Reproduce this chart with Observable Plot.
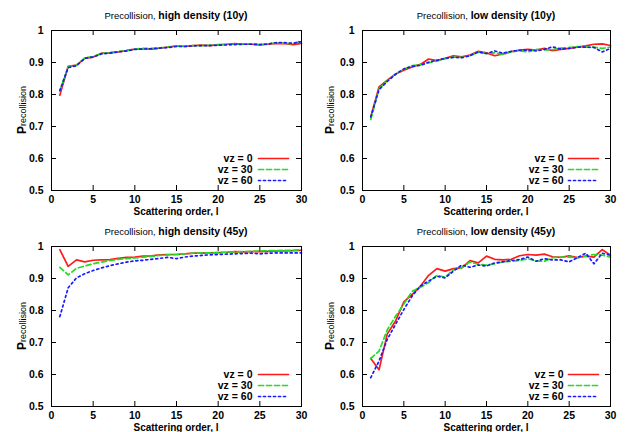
<!DOCTYPE html>
<html>
<head>
<meta charset="utf-8">
<script src="https://cdn.jsdelivr.net/npm/d3@7"></script>
<script src="https://cdn.jsdelivr.net/npm/@observablehq/plot@0.6"></script>
<style>
  html, body { margin: 0; padding: 0; background: #fff; }
  #grid { display: grid; grid-template-columns: 316px 316px; grid-template-rows: 216px 216px; width: 632px; height: 432px; }
  #grid svg { display: block; overflow: visible; }
</style>
</head>
<body>
<div id="grid"></div>
<script>
// ---- data ----
const order = [1,2,3,4,5,6,7,8,9,10,11,12,13,14,15,16,17,18,19,20,21,22,23,24,25,26,27,28,29,30];
const xTicks = [0, 5, 10, 15, 20, 25, 30];
const yTicks = [0.5, 0.6, 0.7, 0.8, 0.9, 1];
const seriesNames = ["vz = 0", "vz = 30", "vz = 60"];
const panelTitles = ["high density (10y)", "low density (10y)", "high density (45y)", "low density (45y)"];

const hd10_vz0  = [0.798,0.888,0.892,0.913,0.917,0.929,0.930,0.933,0.937,0.942,0.943,0.942,0.945,0.948,0.952,0.950,0.953,0.954,0.953,0.956,0.957,0.959,0.957,0.957,0.955,0.957,0.960,0.959,0.956,0.960];
const hd10_vz30 = [0.812,0.887,0.891,0.915,0.918,0.928,0.931,0.934,0.938,0.942,0.944,0.944,0.946,0.948,0.951,0.951,0.953,0.953,0.954,0.955,0.957,0.957,0.958,0.958,0.956,0.958,0.961,0.960,0.959,0.968];
const hd10_vz60 = [0.812,0.884,0.890,0.913,0.917,0.927,0.929,0.933,0.936,0.941,0.942,0.943,0.945,0.947,0.950,0.950,0.952,0.953,0.953,0.954,0.955,0.956,0.957,0.957,0.956,0.958,0.962,0.962,0.960,0.965];

const ld10_vz0  = [0.730,0.824,0.845,0.864,0.876,0.886,0.894,0.911,0.906,0.913,0.921,0.918,0.923,0.935,0.930,0.921,0.927,0.934,0.939,0.941,0.939,0.944,0.937,0.941,0.944,0.948,0.952,0.957,0.958,0.953];
const ld10_vz30 = [0.722,0.818,0.843,0.864,0.879,0.890,0.893,0.899,0.905,0.912,0.917,0.916,0.922,0.932,0.928,0.930,0.925,0.933,0.937,0.933,0.941,0.939,0.940,0.945,0.947,0.950,0.948,0.948,0.944,0.948];
const ld10_vz60 = [0.730,0.815,0.841,0.863,0.880,0.888,0.891,0.901,0.907,0.913,0.916,0.915,0.921,0.933,0.928,0.936,0.929,0.935,0.938,0.939,0.936,0.941,0.949,0.942,0.944,0.948,0.948,0.947,0.933,0.944];

const hd45_vz0  = [0.990,0.938,0.958,0.952,0.957,0.958,0.959,0.963,0.966,0.967,0.970,0.971,0.974,0.975,0.975,0.977,0.979,0.979,0.980,0.981,0.982,0.984,0.983,0.984,0.984,0.985,0.986,0.986,0.987,0.988];
const hd45_vz30 = [0.935,0.911,0.932,0.939,0.946,0.951,0.956,0.960,0.962,0.964,0.967,0.969,0.972,0.974,0.975,0.977,0.979,0.980,0.980,0.981,0.982,0.983,0.984,0.985,0.986,0.987,0.987,0.988,0.988,0.990];
const hd45_vz60 = [0.781,0.871,0.902,0.915,0.925,0.933,0.940,0.946,0.951,0.955,0.957,0.960,0.963,0.966,0.962,0.967,0.970,0.972,0.974,0.975,0.976,0.977,0.978,0.979,0.977,0.979,0.980,0.980,0.980,0.980];

const ld45_vz0  = [0.650,0.615,0.727,0.767,0.827,0.850,0.876,0.910,0.931,0.923,0.931,0.933,0.956,0.949,0.970,0.960,0.958,0.960,0.971,0.975,0.973,0.976,0.968,0.966,0.971,0.965,0.970,0.967,0.990,0.973];
const ld45_vz30 = [0.650,0.673,0.740,0.782,0.820,0.860,0.873,0.887,0.910,0.904,0.928,0.933,0.952,0.944,0.942,0.946,0.952,0.954,0.956,0.962,0.954,0.954,0.965,0.967,0.967,0.965,0.970,0.975,0.973,0.967];
const ld45_vz60 = [0.590,0.642,0.710,0.757,0.803,0.845,0.876,0.892,0.907,0.902,0.923,0.942,0.935,0.942,0.939,0.949,0.952,0.956,0.959,0.967,0.954,0.962,0.958,0.958,0.952,0.965,0.979,0.946,0.979,0.973];

const panelData = [
  [hd10_vz0, hd10_vz30, hd10_vz60],
  [ld10_vz0, ld10_vz30, ld10_vz60],
  [hd45_vz0, hd45_vz30, hd45_vz60],
  [ld45_vz0, ld45_vz30, ld45_vz60]
];

// ---- styles ----
const FONT = "'Liberation Sans', Arial, Helvetica, sans-serif";
const lineStyles = [
  {stroke: "#ff1a1a", dash: null},
  {stroke: "#22dd22", dash: "5,3"},
  {stroke: "#1a1aff", dash: "2,3"}
];

function panel(idx) {
  const left = idx % 2 === 0;
  const W = 316, H = 216;
  const mL = left ? 51 : 46, mR = left ? 15 : 22, mT = 30, mB = 26;
  const pw = W - mL - mR, ph = H - mT - mB;
  const series = panelData[idx];
  const marks = [];
  // inward ticks on all four sides
  marks.push(Plot.tickX(xTicks, {x: d => d, insetTop: ph - 5, stroke: "#000"}));
  marks.push(Plot.tickX(xTicks, {x: d => d, insetBottom: ph - 5, stroke: "#000"}));
  marks.push(Plot.tickY(yTicks, {y: d => d, insetRight: pw - 5, stroke: "#000"}));
  marks.push(Plot.tickY(yTicks, {y: d => d, insetLeft: pw - 5, stroke: "#000"}));
  marks.push(Plot.axisX(xTicks, {tickSize: 0, tickPadding: 5, label: null, fontWeight: "bold"}));
  marks.push(Plot.axisY(yTicks, {tickSize: 0, tickPadding: 8, label: null, fontWeight: "bold",
    tickFormat: d => d === 1 ? "1" : d.toFixed(1)}));
  series.forEach((vals, s) => {
    marks.push(Plot.line(order, {x: d => d, y: (d, i) => vals[i], stroke: lineStyles[s].stroke,
      strokeWidth: 1.7, strokeDasharray: lineStyles[s].dash}));
  });
  // legend
  const rowDy = [-32, -21, -10];
  seriesNames.forEach((name, s) => {
    marks.push(Plot.text([name], {text: d => d, frameAnchor: "bottom-right", textAnchor: "end",
      lineAnchor: "middle", dx: left ? -49 : -47, dy: rowDy[s], fontWeight: "bold", fill: "#000"}));
    marks.push(Plot.vector([name], {frameAnchor: "bottom-right", dx: left ? -43 : -42, dy: rowDy[s],
      rotate: 90, length: 30, anchor: "start", r: 0, stroke: lineStyles[s].stroke, strokeWidth: 1.7,
      strokeDasharray: lineStyles[s].dash}));
  });
  marks.push(Plot.frame({stroke: "#000", strokeWidth: 1}));

  const svg = Plot.plot({
    width: W, height: H,
    marginLeft: mL, marginRight: mR, marginTop: mT, marginBottom: mB,
    x: {domain: [0, 30]},
    y: {domain: [0.5, 1]},
    style: {fontFamily: FONT, fontSize: "10.5px", color: "#000", background: "#fff", overflow: "visible"},
    marks
  });

  const sel = d3.select(svg);
  const cx = mL + pw / 2;
  // title
  const t = sel.append("text").attr("x", cx).attr("y", 18.5).attr("text-anchor", "middle")
    .attr("font-family", FONT).attr("fill", "#000");
  t.append("tspan").attr("font-size", "9.5px").attr("font-weight", "normal").text("Precollision, ");
  t.append("tspan").attr("font-size", "10.5px").attr("font-weight", "bold").text(panelTitles[idx]);
  // x label
  sel.append("text").attr("x", cx).attr("y", 214.5).attr("text-anchor", "middle")
    .attr("font-family", FONT).attr("font-size", "10px").attr("font-weight", "bold")
    .attr("fill", "#000").text("Scattering order, l");
  // y label
  const yl = sel.append("text")
    .attr("transform", `translate(${left ? 25.5 : 17.5},${mT + ph / 2}) rotate(-90)`)
    .attr("text-anchor", "middle").attr("font-family", FONT).attr("fill", "#000");
  yl.append("tspan").attr("font-size", "12px").attr("font-weight", "bold").text("P");
  yl.append("tspan").attr("font-size", "9px").attr("font-weight", "normal").text("recollision");
  return svg;
}

const grid = document.getElementById("grid");
for (let i = 0; i < 4; i++) grid.appendChild(panel(i));
</script>
</body>
</html>
